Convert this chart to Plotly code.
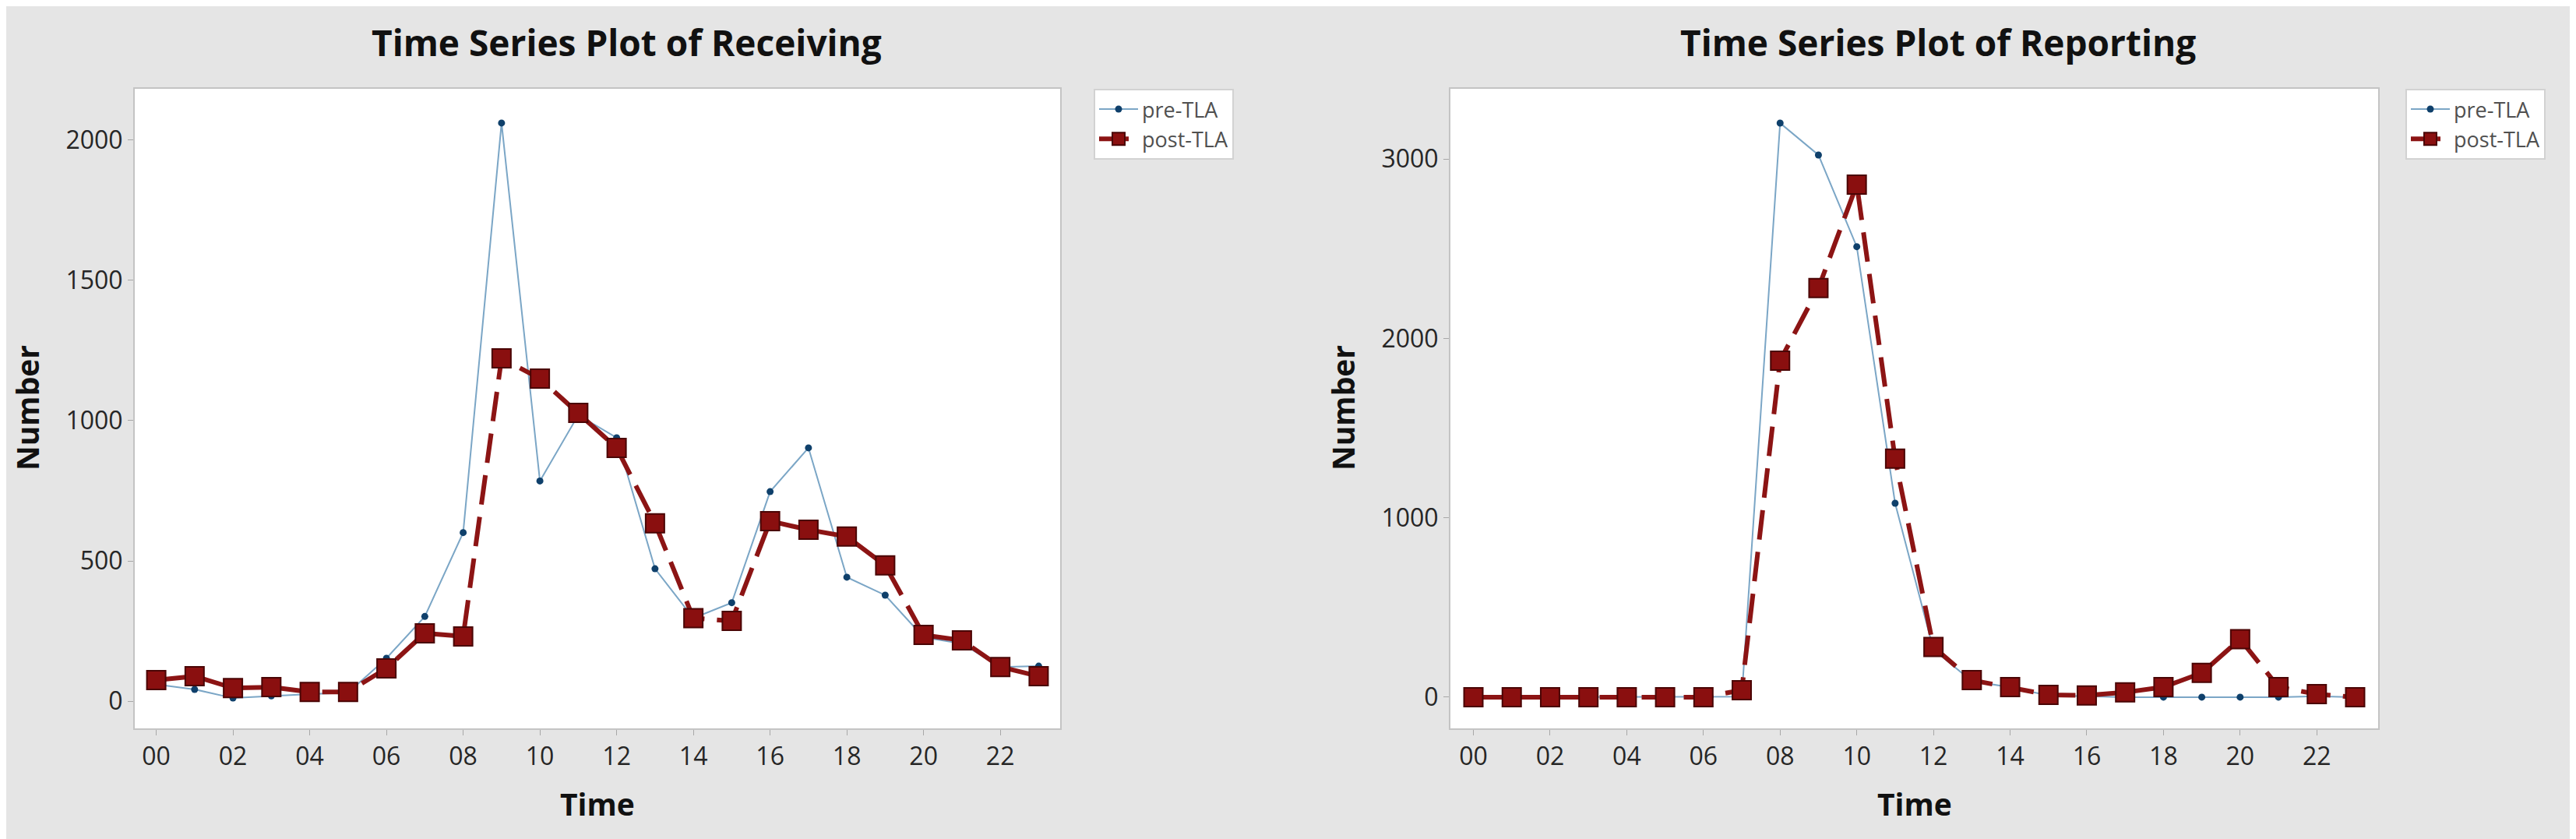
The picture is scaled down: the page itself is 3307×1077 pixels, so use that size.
import plotly.graph_objects as go

# hours of the day and the tick labels used on both x axes
hours = list(range(24))
hour_ticks = [0, 2, 4, 6, 8, 10, 12, 14, 16, 18, 20, 22]
hour_labels = ["00", "02", "04", "06", "08", "10", "12", "14", "16", "18", "20", "22"]

# Receiving counts per hour
receiving_pre = [60, 42, 11, 19, 25, 30, 153, 302, 601, 2061, 785, 1020,
                 939, 472, 296, 351, 747, 903, 442, 378, 228, 205, 122, 125]
receiving_post = [75, 89, 47, 50, 33, 33, 117, 242, 231, 1222, 1150, 1028,
                  903, 634, 296, 286, 642, 611, 587, 484, 236, 217, 122, 89]

# Reporting counts per hour
reporting_pre = [0, 0, 0, 0, 0, 0, 0, 3, 3200, 3022, 2511, 1081,
                 265, 90, 55, 10, 5, 0, 0, 0, 0, 0, 5, 0]
reporting_post = [0, 0, 0, 0, 0, 0, 0, 39, 1876, 2280, 2857, 1329,
                  280, 95, 56, 13, 10, 27, 56, 135, 323, 56, 17, 0]

W, H = 3307, 1077
FONT = "Open Sans"
BG = "#e5e5e5"

PRE_LINE = "#7ba6c6"
PRE_MARK = "#0f406b"
POST_COL = "#8c1414"


def px_x(v):
    return v / W


def px_y(v):
    return 1 - v / H


fig = go.Figure()

panels = [
    ("x", "y", "legend", receiving_pre, receiving_post),
    ("x2", "y2", "legend2", reporting_pre, reporting_post),
]
for xa, ya, leg, pre, post in panels:
    fig.add_trace(go.Scatter(
        x=hours, y=pre, xaxis=xa, yaxis=ya, legend=leg, name="pre-TLA",
        mode="lines+markers",
        line=dict(color=PRE_LINE, width=2),
        marker=dict(symbol="circle", size=9, color=PRE_MARK),
    ))
    fig.add_trace(go.Scatter(
        x=hours, y=post, xaxis=xa, yaxis=ya, legend=leg, name="post-TLA",
        mode="lines+markers",
        line=dict(color=POST_COL, width=6, dash="38px,16px"),
        marker=dict(symbol="square", size=24, color="#8a0f0f",
                    line=dict(color="#4a0505", width=2)),
    ))

axis_common = dict(
    showgrid=False, zeroline=False,
    showline=True, mirror=True, linecolor="#c4c4c4", linewidth=2,
    ticks="outside", ticklen=7, tickcolor="#a8a8a8", tickwidth=1,
    tickfont=dict(family=FONT, size=32, color="#262626"),
)

fig.update_layout(
    width=W, height=H,
    margin=dict(l=0, r=0, t=0, b=0),
    paper_bgcolor=BG, plot_bgcolor="white",
    font=dict(family=FONT),
    xaxis=dict(domain=[px_x(165), px_x(1353)], range=[-0.56, 23.56],
               tickvals=hour_ticks, ticktext=hour_labels, anchor="y", **axis_common),
    yaxis=dict(domain=[px_y(927), px_y(106)], range=[-97, 2183],
               tickvals=[0, 500, 1000, 1500, 2000], anchor="x", **axis_common),
    xaxis2=dict(domain=[px_x(1854), px_x(3045)], range=[-0.6, 23.6],
                tickvals=hour_ticks, ticktext=hour_labels, anchor="y2", **axis_common),
    yaxis2=dict(domain=[px_y(927), px_y(106)], range=[-174, 3391],
                tickvals=[0, 1000, 2000, 3000], anchor="x2", **axis_common),
)

legend_style = dict(
    xanchor="left", yanchor="top", y=px_y(106),
    bgcolor="white", bordercolor="#d2d2d2", borderwidth=2,
    font=dict(family=FONT, size=27, color="#505050"),
    tracegroupgap=0, itemwidth=50,
)
fig.update_layout(
    legend=dict(x=px_x(1396), **legend_style),
    legend2=dict(x=px_x(3080), **legend_style),
    showlegend=True,
)

title_font = dict(family=FONT, size=46, color="#111111", weight="bold")
axis_title_font = dict(family=FONT, size=39, color="#111111", weight="bold")

annotations = [
    dict(text="Time Series Plot of Receiving", x=px_x(796), y=px_y(46), font=title_font),
    dict(text="Time Series Plot of Reporting", x=px_x(2480), y=px_y(46), font=title_font),
    dict(text="Time", x=px_x(759), y=px_y(1023), font=axis_title_font),
    dict(text="Time", x=px_x(2450), y=px_y(1023), font=axis_title_font),
    dict(text="Number", x=px_x(26), y=px_y(516), textangle=-90, font=axis_title_font),
    dict(text="Number", x=px_x(1715), y=px_y(516), textangle=-90, font=axis_title_font),
]
for a in annotations:
    fig.add_annotation(xref="paper", yref="paper", showarrow=False,
                       xanchor="center", yanchor="middle", **a)

fig.write_html("out.html")
